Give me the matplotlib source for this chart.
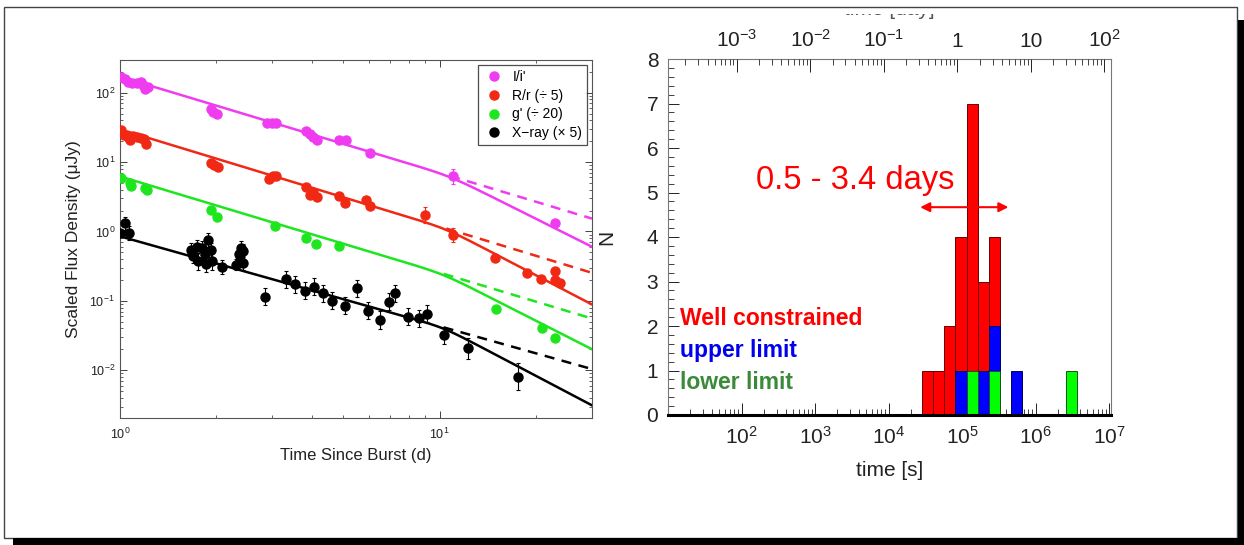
import numpy as np
import matplotlib
matplotlib.use("Agg")
import matplotlib.pyplot as plt
from matplotlib.lines import Line2D
from matplotlib.patches import Rectangle
from matplotlib.ticker import LogLocator, NullFormatter, FixedLocator, FixedFormatter, AutoMinorLocator

plt.rcParams['font.family'] = ['Liberation Sans', 'DejaVu Sans']
plt.rcParams['mathtext.fontset'] = 'custom'
plt.rcParams['mathtext.rm'] = 'Liberation Sans'
plt.rcParams['mathtext.it'] = 'Liberation Sans:italic'
plt.rcParams['mathtext.bf'] = 'Liberation Sans:bold'

# ---------------- Left panel data (light curves) ----------------
t_I = [1.005, 1.035, 1.056, 1.088, 1.132, 1.161, 1.181, 1.196, 1.22,
       1.92, 1.96, 2.01, 2.89, 2.99, 3.08, 3.81, 3.93, 4.03, 4.13,
       4.85, 5.09, 6.08, 11.05, 22.9]
f_I = [166, 156, 144, 139, 139, 143, 129, 112, 122,
       59, 53, 50, 36, 37, 36, 28, 25, 22.7, 20.8,
       20.8, 20.8, 13.4, 6.2, 1.31]
e_I = [0, 0, 0, 0, 0, 0, 0, 0, 0, 0, 0, 0, 0, 0, 0, 0, 0, 0, 0, 0, 0, 0.04, 0.11, 0.04]

t_R = [1.005, 1.03, 1.056, 1.075, 1.102, 1.132, 1.161, 1.19, 1.21,
       1.92, 1.97, 2.02, 2.93, 3.02, 3.08, 3.83, 3.93, 4.03, 4.13,
       4.85, 5.07, 5.88, 6.08, 8.99, 11.0, 14.96, 18.8, 20.8, 22.9, 22.9, 23.9]
f_R = [29, 24.5, 23.2, 20.8, 24, 23.2, 22, 21.3, 18,
       9.8, 9.1, 8.6, 5.6, 6.2, 6.2, 4.4, 3.36, 3.75, 3.18,
       3.25, 2.55, 2.84, 2.36, 1.73, 0.89, 0.41, 0.255, 0.205, 0.27, 0.2, 0.18]
e_R = [0] * 23 + [0.12, 0.1, 0.03, 0.02, 0.02, 0.03, 0.02, 0.02]

t_g = [1.005, 1.075, 1.08, 1.196, 1.215, 1.92, 2.01, 3.06, 3.83, 4.1, 4.86, 15.0, 20.9, 23.0]
f_g = [5.8, 4.94, 4.5, 4.19, 3.96, 2.04, 1.64, 1.21, 0.815, 0.66, 0.625, 0.0766, 0.0403, 0.0295]

t_X = [1.00, 1.038, 1.07,
       1.67, 1.69, 1.74, 1.76, 1.80, 1.85, 1.86, 1.88, 1.92, 1.94, 2.08,
       2.31, 2.35, 2.37, 2.40, 2.42, 2.43,
       2.84, 3.30, 3.54, 3.78, 4.05, 4.31, 4.61, 5.07, 5.53, 5.96, 6.53, 6.97, 7.27,
       7.97, 8.61, 9.14, 10.3, 12.3, 17.6]
f_X = [0.96, 1.31, 0.96,
       0.54, 0.44, 0.60, 0.37, 0.57, 0.48, 0.34, 0.76, 0.54, 0.37, 0.31,
       0.33, 0.48, 0.39, 0.57, 0.35, 0.53,
       0.115, 0.205, 0.173, 0.14, 0.16, 0.128, 0.10, 0.085, 0.152, 0.072, 0.053, 0.0975, 0.128,
       0.059, 0.056, 0.065, 0.032, 0.0207, 0.0081]
e_X = [0.04, 0.09, 0.1,
       0.1, 0.1, 0.1, 0.12, 0.1, 0.1, 0.12, 0.1, 0.1, 0.12, 0.1,
       0.08, 0.1, 0.1, 0.1, 0.1, 0.1,
       0.12, 0.12, 0.12, 0.12, 0.12, 0.12, 0.12, 0.12, 0.12, 0.12, 0.13, 0.12, 0.12,
       0.12, 0.12, 0.12, 0.12, 0.15, 0.2]

# broken power-law fits: flux at 1 d, early index, late index, break time (d)
fit_F1 = [170, 29.6, 6.2, 0.85]
fit_a1 = [1.385, 1.40, 1.386, 1.295]
fit_a2 = [2.30, 2.40, 2.34, 2.42]
fit_tb = [10.8, 10.5, 10.3, 10.3]

band_labels = ["I/i'", "R/r (\u00f7 5)", "g' (\u00f7 20)", "X\u2212ray (\u00d7 5)"]
band_colors = ['#f03cf0', '#f02814', '#1ee61e', 'black']

# ---------------- Right panel data (histogram) ----------------
bin_log_start = 4.46
bin_log_width = 0.15
n_well = [1, 1, 2, 4, 7, 3, 4, 0, 0, 0, 0, 0, 0, 0]
n_upper = [0, 0, 0, 1, 0, 1, 2, 0, 1, 0, 0, 0, 0, 0]
n_lower = [0, 0, 0, 0, 1, 0, 1, 0, 0, 0, 0, 0, 0, 1]
arrow_span = [10**4.43, 10**5.63]
arrow_y = 4.67

W, H = 1244, 545
fig = plt.figure(figsize=(W / 100, H / 100), dpi=100)
fig.patch.set_facecolor('white')

def fx(px):
    return px / W

def fy(py):
    return 1 - py / H

# ---------------- Left axes ----------------
ax1 = fig.add_axes([fx(120), fy(418), fx(592) - fx(120), fy(60) - fy(418)])
ax1.set_xscale('log')
ax1.set_yscale('log')
ax1.set_xlim(1, 30)
ax1.set_ylim(2.05e-3, 295)

def sbpl(t, a1, a2, tb, s=15.0):
    r = np.asarray(t) / tb
    return (r ** (a1 * s) + r ** (a2 * s)) ** (-1.0 / s)

tt = np.logspace(0, np.log10(30), 400)
for F1, a1, a2, tb, c in zip(fit_F1, fit_a1, fit_a2, fit_tb, band_colors):
    norm = F1 / sbpl(1.0, a1, a2, tb)
    ax1.plot(tt, norm * sbpl(tt, a1, a2, tb), color=c, lw=1.8, zorder=2)
    td = np.logspace(np.log10(tb), np.log10(30), 50)
    ax1.plot(td, norm * (td / tb) ** (-a1), color=c, lw=1.8, ls=(0, (4, 3)), zorder=2)

def plot_band(t, f, e, c):
    f = np.asarray(f, float)
    e = np.asarray(e, float)
    lo = f - f * 10 ** (-e)
    hi = f * 10 ** e - f
    ax1.errorbar(t, f, yerr=[lo, hi], fmt='o', color=c, ms=6.5, mec=c,
                 elinewidth=0.8, capsize=1.5, capthick=0.8, zorder=3)

plot_band(t_I, f_I, e_I, band_colors[0])
plot_band(t_R, f_R, e_R, band_colors[1])
plot_band(t_g, f_g, [0] * len(t_g), band_colors[2])
plot_band(t_X, f_X, e_X, band_colors[3])

ax1.tick_params(which='both', direction='in', top=True, right=True, labelsize=9, colors='#222222')
ax1.tick_params(which='major', length=5, width=0.6)
ax1.tick_params(which='minor', length=2.5, width=0.5)
ax1.tick_params(axis='x', pad=6)
ax1.yaxis.set_major_locator(LogLocator(base=10, numticks=10))
ax1.yaxis.set_minor_locator(LogLocator(base=10, subs=np.arange(2, 10), numticks=20))
ax1.yaxis.set_minor_formatter(NullFormatter())
ax1.xaxis.set_minor_formatter(NullFormatter())
for sp in ax1.spines.values():
    sp.set_color('#555555')
    sp.set_linewidth(0.8)
ax1.set_xlabel('Time Since Burst (d)', fontsize=12, color='#222222', labelpad=5)
ax1.set_ylabel('Scaled Flux Density (\u03bcJy)', fontsize=12.5, color='#222222', labelpad=6)

handles = [Line2D([], [], ls='none', marker='o', ms=6.5, color=c) for c in band_colors]
leg = ax1.legend(handles, band_labels, loc='upper right', fontsize=10, frameon=True,
                 fancybox=False, edgecolor='#222222', borderaxespad=0.35,
                 handletextpad=0.6, labelspacing=0.35, handlelength=1.5, borderpad=0.35)
leg.get_frame().set_linewidth(0.9)

# ---------------- Right axes ----------------
ax2 = fig.add_axes([fx(668), fy(415), fx(1111) - fx(668), fy(59) - fy(415)])
ax2.set_xscale('log')
ax2.set_xlim(10, 1.06e7)
ax2.set_ylim(0, 8)

edges = 10 ** (bin_log_start + bin_log_width * np.arange(len(n_well) + 1))
lefts = edges[:-1]
widths = np.diff(edges)
for counts, col, ec in [(n_well, '#ff0000', '#6a0000'),
                         (n_upper, '#0000ff', '#000060'),
                         (n_lower, '#00ff00', '#205020')]:
    counts = np.asarray(counts)
    m = counts > 0
    ax2.bar(lefts[m], counts[m], width=widths[m], align='edge', color=col,
            edgecolor=ec, linewidth=0.7, zorder=2)

ax2.annotate('', xy=(arrow_span[1], arrow_y), xytext=(arrow_span[0], arrow_y),
             arrowprops=dict(arrowstyle='<|-|>', color='#ff0000', lw=1.5,
                             mutation_scale=14, shrinkA=0, shrinkB=0), zorder=4)
ax2.text(10**2.195, 5.28, '0.5 - 3.4 days', color='#ff0000', fontsize=23.5,
         va='center', ha='left', zorder=4)
ax2.text(10**1.16, 2.16, 'Well constrained', color='#ff0000', fontsize=16.5,
         fontweight='bold', va='center', ha='left')
ax2.text(10**1.16, 1.46, 'upper limit', color='#0000ee', fontsize=16.5,
         fontweight='bold', va='center', ha='left')
ax2.text(10**1.16, 0.74, 'lower limit', color='#3a8a3a', fontsize=16.5,
         fontweight='bold', va='center', ha='left')

ax2.set_yticks(range(0, 9))
ax2.yaxis.set_minor_locator(AutoMinorLocator(5))
ax2.xaxis.set_major_locator(FixedLocator([1e2, 1e3, 1e4, 1e5, 1e6, 1e7]))
ax2.xaxis.set_major_formatter(FixedFormatter(['$10^{2}$', '$10^{3}$', '$10^{4}$',
                                              '$10^{5}$', '$10^{6}$', '$10^{7}$']))
ax2.xaxis.set_minor_locator(LogLocator(base=10, subs=np.arange(2, 10), numticks=20))
ax2.xaxis.set_minor_formatter(NullFormatter())
ax2.tick_params(which='both', direction='in', top=False, right=False, labelsize=15, colors='#222222')
ax2.tick_params(axis='x', which='major', length=9, width=0.7, pad=8)
ax2.tick_params(axis='x', which='minor', length=4, width=0.6)
ax2.tick_params(axis='y', which='major', length=8, width=0.7, pad=7)
ax2.tick_params(axis='y', which='minor', length=4, width=0.6)
for name, sp in ax2.spines.items():
    sp.set_color('#777777')
    sp.set_linewidth(0.8)
ax2.spines['bottom'].set_color('black')
ax2.spines['bottom'].set_linewidth(2.2)
ax2.set_xlabel('time [s]', fontsize=15, color='#222222', labelpad=9)
ax2.set_ylabel('N', fontsize=15, color='#222222', labelpad=22)

ax3 = ax2.twiny()
ax3.set_xscale('log')
ax3.set_xlim(10 / 86400, 1.06e7 / 86400)
ax3.xaxis.set_major_locator(FixedLocator([1e-3, 1e-2, 1e-1, 1, 10, 100]))
ax3.xaxis.set_major_formatter(FixedFormatter(['$10^{-3}$', '$10^{-2}$', '$10^{-1}$',
                                              '1', '10', '$10^{2}$']))
ax3.xaxis.set_minor_locator(LogLocator(base=10, subs=np.arange(2, 10), numticks=20))
ax3.xaxis.set_minor_formatter(NullFormatter())
ax3.tick_params(which='both', direction='in', labelsize=15, colors='#222222')
ax3.tick_params(which='major', length=9, width=0.7, pad=6)
ax3.tick_params(which='minor', length=4, width=0.6)
for sp in ax3.spines.values():
    sp.set_visible(False)

# partly hidden top label
fig.text(fx(889), fy(19), 'time [day]', fontsize=15, color='#555555',
         ha='center', va='bottom', zorder=1)
fig.patches.append(Rectangle((0, fy(14)), 1, 1 - fy(14), transform=fig.transFigure,
                             facecolor='white', edgecolor='none', zorder=5))

# slide frame with shadow
fig.patches.append(Rectangle((fx(4), fy(538)), fx(1237) - fx(4), fy(7) - fy(538),
                             transform=fig.transFigure, fill=False,
                             edgecolor='#444444', lw=1.0, zorder=6))
fig.patches.append(Rectangle((fx(1238), 0), 1 - fx(1238), fy(20), transform=fig.transFigure,
                             facecolor='black', edgecolor='none', zorder=6))
fig.patches.append(Rectangle((fx(13), 0), 1 - fx(13), fy(538), transform=fig.transFigure,
                             facecolor='black', edgecolor='none', zorder=6))

fig.savefig('out.png', dpi=100, facecolor='white')
